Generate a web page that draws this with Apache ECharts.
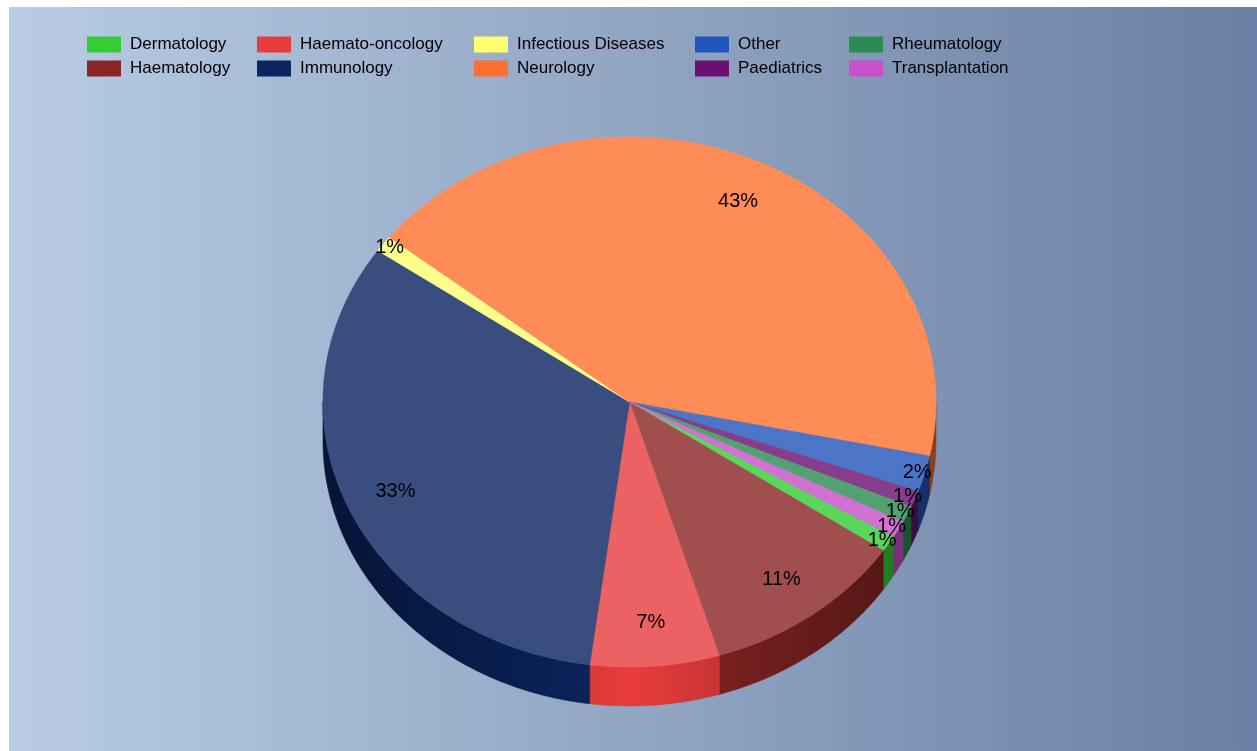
<!DOCTYPE html>
<html><head><meta charset="utf-8">
<script src="https://cdn.jsdelivr.net/npm/echarts@6/dist/echarts.min.js"></script>
<style>html,body{margin:0;padding:0;background:#fff}#c{width:1257px;height:751px}</style>
</head><body><div id="c"></div>
<script>
// ---- data ----
const categories = ['Dermatology','Haematology','Haemato-oncology','Immunology','Infectious Diseases','Neurology','Other','Paediatrics','Rheumatology','Transplantation'];
const shares = [1.0, 10.8, 6.8, 32.6, 1.0, 42.6, 2.2, 1.0, 1.0, 1.0];
const colors = ['#33cc33','#8b2525','#e83c3c','#0a2560','#ffff70','#ff7030','#2255bb','#6a1070','#2a8c50','#c850c8'];
const legendColumns = [['Dermatology','Haematology'],['Haemato-oncology','Immunology'],['Infectious Diseases','Neurology'],['Other','Paediatrics'],['Rheumatology','Transplantation']];

// ---- layout ----
const CX = 629.5, CY = 402, RX = 306.5, RY = 265, DEPTH = 39, START = 30.5;
const LEGEND_LEFT = [87, 257, 474, 695, 849];

const total = shares.reduce((a,b)=>a+b,0);
const starts = [], ends = [];
let acc = START;
shares.forEach(v => { starts.push(acc); acc += v/total*360; ends.push(acc); });

function hex2rgb(h){ h=h.replace('#',''); return [0,2,4].map(k=>parseInt(h.substr(k,2),16)); }
function rgb2str(c){ return 'rgb('+c.map(x=>Math.round(Math.max(0,Math.min(255,x)))).join(',')+')'; }
function lighten(h,t){ return rgb2str(hex2rgb(h).map(x=>x+(255-x)*t)); }
function darken(h,t){ return rgb2str(hex2rgb(h).map(x=>x*(1-t))); }
const rad = d => d*Math.PI/180;
function pt(a, dy){ return [CX+RX*Math.cos(rad(a)), CY+RY*Math.sin(rad(a))+(dy||0)]; }

function renderSlice(i){
  return function(params, api){
    const a0 = starts[i], a1 = ends[i];
    const children = [];
    const topFill = lighten(colors[i], 0.19);
    const pts = [[CX,CY]];
    const n = Math.max(2, Math.ceil((a1-a0)/0.5));
    for (let k=0;k<=n;k++) pts.push(pt(a0+(a1-a0)*k/n));
    children.push({type:'polygon', z2:10, shape:{points:pts}, style:{fill:topFill, stroke:topFill, lineWidth:0.6}});
    // visible side (front half: 0..180 deg, clockwise on screen)
    [0,360].forEach(off => {
      const s = Math.max(a0, off), e = Math.min(a1, off+180);
      if (e > s) {
        const m = Math.max(2, Math.ceil((e-s)/0.5));
        const up = [], dn = [];
        for (let k=0;k<=m;k++){ const a=s+(e-s)*k/m; up.push(pt(a)); dn.push(pt(a,DEPTH)); }
        const grad = new echarts.graphic.LinearGradient(CX-RX,0,CX+RX,0,[
          {offset:0,color:darken(colors[i],0.45)},
          {offset:0.5,color:colors[i]},
          {offset:1,color:darken(colors[i],0.45)}], true);
        children.push({type:'polygon', z2:1, shape:{points:up.concat(dn.reverse())}, style:{fill:grad, stroke:grad, lineWidth:0.6}});
      }
    });
    // label
    const mid = (a0+a1)/2;
    const frac = (a1-a0) < 12 ? 0.975 : 0.835;
    const lx = CX + frac*RX*Math.cos(rad(mid)), ly = CY + frac*RY*Math.sin(rad(mid));
    const pct = Math.round(api.value(0)/total*100) + '%';
    children.push({type:'text', z2:20, x:lx, y:ly, style:{text:pct, fill:'#000', font:'20px "Liberation Sans", Arial, sans-serif', align:'center', verticalAlign:'middle'}});
    return {type:'group', children};
  };
}

const chart = echarts.init(document.getElementById('c'));
chart.setOption({
  backgroundColor:'#ffffff',
  animation:false,
  graphic:[{type:'rect', left:9, top:7, z:-10, silent:true, shape:{width:1248, height:744},
    style:{fill:new echarts.graphic.LinearGradient(0,0,1,0,[{offset:0,color:'#b9cce4'},{offset:1,color:'#6a7fa3'}])}}],
  legend: legendColumns.map((names,j)=>({
    data:names, orient:'vertical', left:LEGEND_LEFT[j], top:36, padding:0,
    itemWidth:34, itemHeight:16, itemGap:7, icon:'rect', selectedMode:false,
    textStyle:{fontSize:17, color:'#000', fontFamily:'"Liberation Sans", Arial, sans-serif', lineHeight:16, padding:[0,0,0,4]}
  })),
  series: categories.map((name,i)=>({
    type:'custom', name, coordinateSystem:'none', silent:true,
    itemStyle:{color:colors[i]}, data:[shares[i]], renderItem:renderSlice(i)
  }))
});
</script></body></html>
